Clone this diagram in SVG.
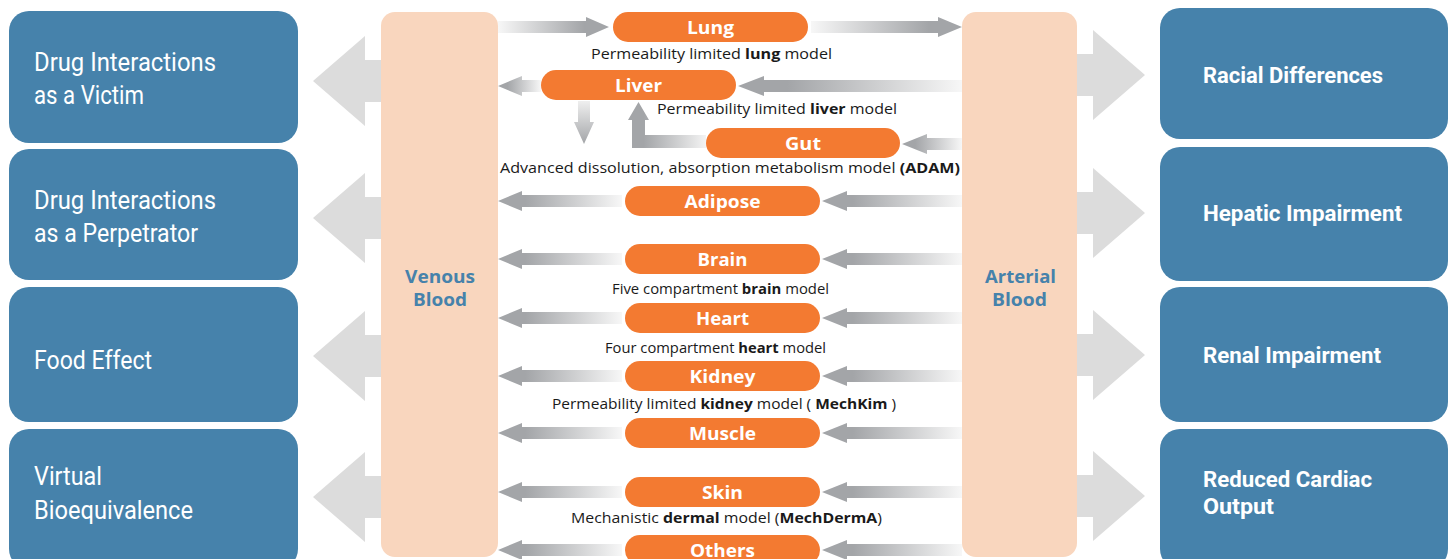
<svg xmlns="http://www.w3.org/2000/svg" width="1450" height="559" viewBox="0 0 1450 559">
<defs>
<style>
.box{fill:#4682AB}
.panel{fill:#F9D6BE}
.pill{fill:#F37A31}
.big{fill:#DCDCDC}
.lt{font-family:Roboto,"Open Sans",sans-serif;font-size:25px;fill:#FFFFFF}
.rt{font-family:Roboto,"Open Sans",sans-serif;font-size:22px;font-weight:bold;fill:#FFFFFF}
.pt{font-family:"Open Sans","Liberation Sans",sans-serif;font-size:18px;font-weight:bold;fill:#FFFFFF;text-anchor:middle}
.dt{font-family:"Open Sans","Liberation Sans",sans-serif;font-size:15px;fill:#1A1A1A}
.bt{font-family:"Open Sans","Liberation Sans",sans-serif;font-size:18.5px;font-weight:bold;fill:#4682AB;text-anchor:middle}
.b{font-weight:bold}
</style>
<linearGradient id="gL" x1="0" y1="0" x2="1" y2="0">
<stop offset="0" stop-color="#A3A5A8"/><stop offset="0.22" stop-color="#A3A5A8"/><stop offset="1" stop-color="#F7F7F7"/>
</linearGradient>
<linearGradient id="gR" x1="0" y1="0" x2="1" y2="0">
<stop offset="0" stop-color="#F7F7F7"/><stop offset="0.78" stop-color="#A3A5A8"/><stop offset="1" stop-color="#A3A5A8"/>
</linearGradient>
<linearGradient id="gD" x1="0" y1="0" x2="0" y2="1">
<stop offset="0" stop-color="#EFEFEF"/><stop offset="1" stop-color="#A3A5A8"/>
</linearGradient>
<linearGradient id="gG" x1="0" y1="0" x2="1" y2="0">
<stop offset="0" stop-color="#A3A5A8"/><stop offset="0.2" stop-color="#A3A5A8"/><stop offset="1" stop-color="#F3F3F3"/>
</linearGradient>
</defs>
<rect width="1450" height="559" fill="#FFFFFF"/>

<g id="connectors">
<polygon class="big" points="313,81 365,36 365,60 385,60 385,102 365,102 365,126"/>
<polygon class="big" points="313,218 365,173 365,197 385,197 385,239 365,239 365,263"/>
<polygon class="big" points="313,356 365,311 365,335 385,335 385,377 365,377 365,401"/>
<polygon class="big" points="313,497 365,452 365,476 385,476 385,518 365,518 365,542"/>
<polygon class="big" points="1073,54 1093,54 1093,30 1145,75 1093,120 1093,96 1073,96"/>
<polygon class="big" points="1073,192 1093,192 1093,168 1145,213 1093,258 1093,234 1073,234"/>
<polygon class="big" points="1073,334 1093,334 1093,310 1145,355 1093,400 1093,376 1073,376"/>
<polygon class="big" points="1073,475 1093,475 1093,451 1145,496 1093,541 1093,517 1073,517"/>
<polygon fill="url(#gR)" points="498,21 586,21 586,17 609,27 586,37 586,33 498,33"/>
<polygon fill="url(#gR)" points="811,21 938,21 938,17 962,27 938,37 938,33 811,33"/>
<polygon fill="url(#gL)" points="498,86 522,76 522,80 541,80 541,92 522,92 522,96"/>
<polygon fill="url(#gL)" points="738,86 764,76 764,80 962,80 962,92 764,92 764,96"/>
<polygon fill="url(#gD)" points="578,101 590,101 590,122 594,122 584,144 574,122 578,122"/>
<polygon fill="url(#gG)" points="706,135 645,135 645,120 649,120 638.5,102 628,120 632,120 632,148 706,148"/>
<polygon fill="url(#gL)" points="902,144 927,134 927,138 962,138 962,150 927,150 927,154"/>
<g id="a-adipose"><polygon fill="url(#gL)" points="498,201 522,191 522,195 622,195 622,207 522,207 522,211"/><polygon fill="url(#gL)" points="822,201 847,191 847,195 962,195 962,207 847,207 847,211"/></g>
<g id="a-brain"><polygon fill="url(#gL)" points="498,259 522,249 522,253 622,253 622,265 522,265 522,269"/><polygon fill="url(#gL)" points="822,259 847,249 847,253 962,253 962,265 847,265 847,269"/></g>
<g id="a-heart"><polygon fill="url(#gL)" points="498,318 522,308 522,312 622,312 622,324 522,324 522,328"/><polygon fill="url(#gL)" points="822,318 847,308 847,312 962,312 962,324 847,324 847,328"/></g>
<g id="a-kidney"><polygon fill="url(#gL)" points="498,376 522,366 522,370 622,370 622,382 522,382 522,386"/><polygon fill="url(#gL)" points="822,376 847,366 847,370 962,370 962,382 847,382 847,386"/></g>
<g id="a-muscle"><polygon fill="url(#gL)" points="498,433 522,423 522,427 622,427 622,439 522,439 522,443"/><polygon fill="url(#gL)" points="822,433 847,423 847,427 962,427 962,439 847,439 847,443"/></g>
<g id="a-skin"><polygon fill="url(#gL)" points="498,492 522,482 522,486 622,486 622,498 522,498 522,502"/><polygon fill="url(#gL)" points="822,492 847,482 847,486 962,486 962,498 847,498 847,502"/></g>
<g id="a-others"><polygon fill="url(#gL)" points="498,550 522,540 522,544 622,544 622,556 522,556 522,560"/><polygon fill="url(#gL)" points="822,550 847,540 847,544 962,544 962,556 847,556 847,560"/></g>
</g>

<g id="venous">
<rect class="panel" x="381" y="12" width="117" height="545" rx="14"/>
<text class="bt" x="440" y="283" textLength="70" lengthAdjust="spacingAndGlyphs">Venous</text>
<text class="bt" x="440" y="306" textLength="54" lengthAdjust="spacingAndGlyphs">Blood</text>
</g>
<g id="arterial">
<rect class="panel" x="962" y="12" width="115" height="545" rx="14"/>
<text class="bt" x="1020.5" y="283" textLength="71" lengthAdjust="spacingAndGlyphs">Arterial</text>
<text class="bt" x="1019.5" y="306" textLength="55" lengthAdjust="spacingAndGlyphs">Blood</text>
</g>

<g id="victim"><rect class="box" x="9" y="11" width="289" height="132" rx="20"/>
<text class="lt" x="34" y="71" textLength="182" lengthAdjust="spacingAndGlyphs">Drug Interactions</text>
<text class="lt" x="34" y="104" textLength="110" lengthAdjust="spacingAndGlyphs">as a Victim</text></g>
<g id="perpetrator"><rect class="box" x="9" y="149" width="289" height="131" rx="20"/>
<text class="lt" x="34" y="209" textLength="182" lengthAdjust="spacingAndGlyphs">Drug Interactions</text>
<text class="lt" x="34" y="242" textLength="164" lengthAdjust="spacingAndGlyphs">as a Perpetrator</text></g>
<g id="food"><rect class="box" x="9" y="287" width="289" height="135" rx="20"/>
<text class="lt" x="34" y="369" textLength="118" lengthAdjust="spacingAndGlyphs">Food Effect</text></g>
<g id="bioeq"><rect class="box" x="9" y="429" width="289" height="140" rx="20"/>
<text class="lt" x="34" y="485" textLength="68" lengthAdjust="spacingAndGlyphs">Virtual</text>
<text class="lt" x="34" y="519" textLength="159" lengthAdjust="spacingAndGlyphs">Bioequivalence</text></g>

<g id="racial"><rect class="box" x="1160" y="8" width="288" height="131" rx="20"/>
<text class="rt" x="1203" y="83" textLength="180" lengthAdjust="spacingAndGlyphs">Racial Differences</text></g>
<g id="hepatic"><rect class="box" x="1160" y="147" width="288" height="134" rx="20"/>
<text class="rt" x="1203" y="221" textLength="199" lengthAdjust="spacingAndGlyphs">Hepatic Impairment</text></g>
<g id="renal"><rect class="box" x="1160" y="287" width="288" height="135" rx="20"/>
<text class="rt" x="1203" y="363" textLength="178" lengthAdjust="spacingAndGlyphs">Renal Impairment</text></g>
<g id="cardiac"><rect class="box" x="1160" y="429" width="288" height="140" rx="20"/>
<text class="rt" x="1203" y="487" textLength="169" lengthAdjust="spacingAndGlyphs">Reduced Cardiac</text>
<text class="rt" x="1203" y="514" textLength="71" lengthAdjust="spacingAndGlyphs">Output</text></g>

<g id="lung"><rect class="pill" x="613" y="12" width="195" height="30" rx="15"/>
<text class="pt" x="710.5" y="33.5" textLength="47" lengthAdjust="spacingAndGlyphs">Lung</text>
<text class="dt" x="591" y="59" textLength="241" lengthAdjust="spacingAndGlyphs"><tspan>Permeability limited </tspan><tspan class="b">lung</tspan><tspan> model</tspan></text></g>
<g id="liver"><rect class="pill" x="541" y="70" width="195" height="30" rx="15"/>
<text class="pt" x="638.5" y="91.5" textLength="47" lengthAdjust="spacingAndGlyphs">Liver</text>
<text class="dt" x="657" y="114" textLength="240" lengthAdjust="spacingAndGlyphs"><tspan>Permeability limited </tspan><tspan class="b">liver</tspan><tspan> model</tspan></text></g>
<g id="gut"><rect class="pill" x="706" y="128" width="194" height="30" rx="15"/>
<text class="pt" x="803" y="149.5" textLength="36" lengthAdjust="spacingAndGlyphs">Gut</text>
<text class="dt" x="500" y="173" textLength="460" lengthAdjust="spacingAndGlyphs"><tspan>Advanced dissolution, absorption metabolism model </tspan><tspan class="b">(ADAM)</tspan></text></g>
<g id="adipose"><rect class="pill" x="625" y="186" width="195" height="30" rx="15"/>
<text class="pt" x="722.5" y="207.5" textLength="76" lengthAdjust="spacingAndGlyphs">Adipose</text></g>
<g id="brain"><rect class="pill" x="625" y="244" width="195" height="30" rx="15"/>
<text class="pt" x="722.5" y="265.5" textLength="50" lengthAdjust="spacingAndGlyphs">Brain</text>
<text class="dt" x="612" y="293.5" textLength="217" lengthAdjust="spacingAndGlyphs"><tspan>Five compartment </tspan><tspan class="b">brain</tspan><tspan> model</tspan></text></g>
<g id="heart"><rect class="pill" x="625" y="303" width="195" height="30" rx="15"/>
<text class="pt" x="722.5" y="324.5" textLength="53" lengthAdjust="spacingAndGlyphs">Heart</text>
<text class="dt" x="605" y="352.5" textLength="221" lengthAdjust="spacingAndGlyphs"><tspan>Four compartment </tspan><tspan class="b">heart</tspan><tspan> model</tspan></text></g>
<g id="kidney"><rect class="pill" x="625" y="361" width="195" height="30" rx="15"/>
<text class="pt" x="722.5" y="382.5" textLength="66" lengthAdjust="spacingAndGlyphs">Kidney</text>
<text class="dt" x="552" y="409" textLength="344" lengthAdjust="spacingAndGlyphs"><tspan>Permeability limited </tspan><tspan class="b">kidney</tspan><tspan> model ( </tspan><tspan class="b">MechKim</tspan><tspan> )</tspan></text></g>
<g id="muscle"><rect class="pill" x="625" y="418" width="195" height="30" rx="15"/>
<text class="pt" x="722.5" y="439.5" textLength="67" lengthAdjust="spacingAndGlyphs">Muscle</text></g>
<g id="skin"><rect class="pill" x="625" y="477" width="195" height="30" rx="15"/>
<text class="pt" x="722.5" y="498.5" textLength="41" lengthAdjust="spacingAndGlyphs">Skin</text>
<text class="dt" x="571" y="523" textLength="311" lengthAdjust="spacingAndGlyphs"><tspan>Mechanistic </tspan><tspan class="b">dermal</tspan><tspan> model (</tspan><tspan class="b">MechDermA</tspan><tspan>)</tspan></text></g>
<g id="others"><rect class="pill" x="625" y="535" width="195" height="30" rx="15"/>
<text class="pt" x="722.5" y="556.5" textLength="65" lengthAdjust="spacingAndGlyphs">Others</text></g>
</svg>
